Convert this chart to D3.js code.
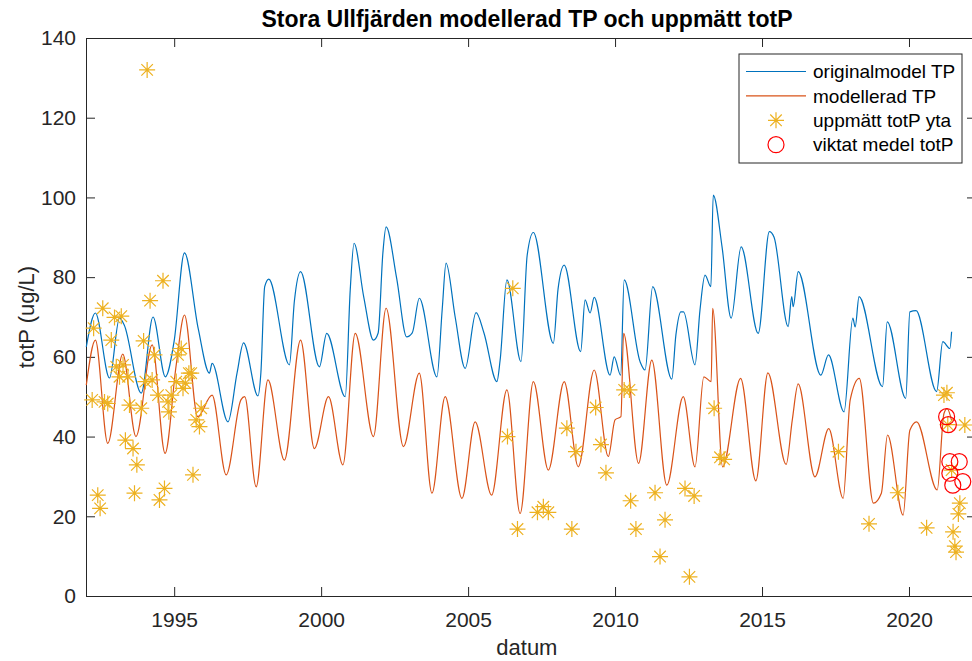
<!DOCTYPE html>
<html>
<head>
<meta charset="utf-8">
<script src="https://cdn.jsdelivr.net/npm/d3@7"></script>
<style>
  body { margin: 0; background: #fff; }
  svg { display: block; font-family: "Liberation Sans", Arial, Helvetica, sans-serif; }
  .axis path, .axis line { stroke: #262626; }
  .axis text { fill: #262626; font-size: 21px; font-family: "Liberation Sans", Arial, sans-serif; }
</style>
</head>
<body>
<div id="chart"></div>
<script>
// originalmodel TP: [decimal year, ug/L] read at peaks, troughs and shoulders
const originalModel = [
  [1992.01, 62.5], [1992.32, 71], [1992.80, 54.7], [1993.14, 69.7], [1993.30, 68], [1993.88, 50.9],
  [1994.28, 70], [1994.70, 55], [1995.00, 64], [1995.35, 86.1], [1995.82, 67], [1996.20, 55.9],
  [1996.29, 58.4], [1996.83, 43.7], [1997.14, 56], [1997.36, 63.5], [1997.85, 50.2], [1997.95, 56],
  [1998.08, 77.6], [1998.22, 79.5], [1998.92, 58], [1999.09, 74], [1999.30, 81.4], [1999.94, 57.5],
  [2000.19, 65.9], [2000.82, 50], [2000.99, 76.8], [2001.12, 88.5], [2001.45, 75], [2001.78, 64.2],
  [2001.94, 66], [2002.10, 86], [2002.21, 92.6], [2002.57, 79.7], [2002.91, 65], [2003.10, 66],
  [2003.34, 74.7], [2003.94, 55], [2004.12, 72], [2004.25, 83.5], [2004.56, 70], [2004.90, 57.1],
  [2005.27, 71.1], [2005.54, 66], [2005.98, 53.8], [2006.09, 59.2], [2006.32, 79.3], [2006.80, 58.8],
  [2007.01, 85.5], [2007.22, 91.2], [2007.90, 63.4], [2008.06, 77], [2008.27, 83], [2008.83, 61.3],
  [2008.98, 74.3], [2009.15, 71], [2009.29, 74.9], [2009.83, 55.4], [2009.97, 60], [2010.19, 55.4],
  [2010.31, 79.3], [2010.85, 58.8], [2011.02, 56.7], [2011.28, 77.6], [2011.93, 54.4], [2012.07, 65.5],
  [2012.24, 71.3], [2012.33, 71.3], [2012.72, 58], [2012.89, 71.8], [2013.06, 80.5], [2013.26, 77.6],
  [2013.34, 100.6], [2013.64, 87.6], [2013.95, 69.7], [2014.29, 87.6], [2014.87, 65.9], [2015.25, 91.4],
  [2015.41, 90], [2015.89, 67.6], [2016.01, 75.1], [2016.06, 72.6], [2016.23, 81.4], [2017.00, 55.4],
  [2017.26, 60.5], [2017.79, 46.2], [2018.09, 69.7], [2018.17, 67.5], [2018.30, 75.1], [2019.10, 52.5],
  [2019.26, 68.8], [2019.89, 49.6], [2020.03, 71.3], [2020.24, 71.6], [2020.94, 51.3], [2021.15, 63.8],
  [2021.39, 62.1], [2021.45, 66.3]
]

// modellerad TP
const modelled = [
  [1992.01, 52.9], [1992.32, 64.2], [1992.74, 38.3], [1993.25, 60.7], [1993.70, 40], [1994.25, 63],
  [1994.69, 35.8], [1995.07, 58], [1995.35, 70.5], [1995.80, 45], [1996.29, 50.4], [1996.77, 30.4],
  [1997.27, 49.2], [1997.40, 50], [1997.79, 27.4], [1998.19, 54.2], [1998.75, 34.1], [1999.30, 64.2],
  [1999.77, 37], [2000.25, 50], [2000.74, 32.9], [2001.16, 65.9], [2001.78, 40], [2002.21, 72.2],
  [2002.80, 37.5], [2003.34, 55.9], [2003.77, 25.8], [2004.22, 50], [2004.79, 24.5], [2005.24, 43.7],
  [2005.80, 25.3], [2006.32, 51.7], [2006.77, 20.7], [2007.22, 53.8], [2007.73, 31.6], [2008.27, 53.8],
  [2008.75, 32.4], [2009.29, 56.7], [2009.77, 35], [2010.00, 44.2], [2010.20, 45], [2010.29, 65.9],
  [2010.80, 33.3], [2011.25, 59.2], [2011.76, 27.8], [2012.32, 50], [2012.72, 32.4], [2013.02, 55],
  [2013.27, 53.8], [2013.32, 72.2], [2013.66, 32.4], [2014.27, 54.6], [2014.79, 28.9], [2015.20, 56],
  [2015.82, 33], [2016.03, 44.2], [2016.23, 53.2], [2016.80, 29.9], [2017.27, 42], [2017.76, 24.5],
  [2018.00, 49.2], [2018.31, 54.6], [2018.79, 23.3], [2019.06, 25.8], [2019.27, 40.4], [2019.80, 20.3],
  [2020.03, 41.6], [2020.26, 43.7], [2020.96, 26.6], [2021.19, 45.8], [2021.30, 47], [2021.45, 44]
]

// uppmätt totP yta
const measured = [
  [1992.26, 67.2], [1992.57, 72.2], [1992.86, 64.2], [1992.97, 69.9], [1993.20, 70.2], [1992.21, 49.2],
  [1992.63, 48.7], [1992.74, 48.3], [1992.40, 25.3], [1992.48, 22], [1993.03, 57.5], [1993.14, 55],
  [1993.26, 58], [1993.43, 55], [1993.48, 47.9], [1993.34, 39.1], [1993.60, 37], [1993.73, 32.9],
  [1993.65, 25.8], [1993.96, 64], [1993.88, 47.1], [1994.02, 53.8], [1994.08, 132], [1994.18, 74.1],
  [1994.62, 79.1], [1994.25, 54.2], [1994.33, 60.5], [1994.45, 50.4], [1994.50, 24.1], [1994.67, 27],
  [1994.79, 48.7], [1994.90, 50.4], [1994.82, 46.2], [1995.07, 53.8], [1995.24, 62.1], [1995.13, 60.5],
  [1995.30, 52.1], [1995.38, 53.4], [1995.50, 55.9], [1995.58, 55.9], [1995.64, 30.4], [1995.75, 44.2],
  [1995.86, 42.5], [1995.92, 47.1],
  [2006.52, 77.2], [2006.34, 40], [2006.68, 16.8], [2007.36, 21], [2007.56, 22.4], [2007.73, 21],
  [2008.36, 42.1], [2008.53, 16.8], [2008.67, 36.2], [2009.34, 47.3], [2009.52, 38], [2009.69, 30.9],
  [2010.31, 51.7], [2010.49, 51.7], [2010.53, 23.9], [2010.71, 16.8], [2011.36, 25.9], [2011.53, 9.9],
  [2011.70, 19.1], [2012.38, 27], [2012.53, 4.8], [2012.69, 25.1], [2013.37, 47.1], [2013.57, 34.8],
  [2013.71, 34.3], [2017.60, 36.2], [2018.64, 18.1], [2019.62, 25.9], [2020.60, 17.1],
  [2021.19, 50.4], [2021.29, 51], [2021.32, 43], [2021.45, 31.6], [2021.50, 16.1], [2021.56, 12.5],
  [2021.60, 11], [2021.68, 20.6], [2021.73, 23.3], [2021.90, 42.9]
]

// viktat medel totP
const weighted = [
  [2021.28, 45], [2021.34, 43], [2021.39, 33.7], [2021.71, 33.7], [2021.39, 30.8], [2021.49, 27.8], [2021.83, 28.7]
]

const xTicks = [1995, 2000, 2005, 2010, 2015, 2020]
const yTicks = [0, 20, 40, 60, 80, 100, 120, 140]
const xDomain = [1992.0, 2022.28]
const yDomain = [0, 140]

const titleText = 'Stora Ullfjärden modellerad TP och uppmätt totP'
const xLabel = 'datum'
const yLabel = 'totP (ug/L)'
const legendLabels = ['originalmodel TP', 'modellerad TP', 'uppmätt totP yta', 'viktat medel totP']

const colors = {
  blue: '#0072BD',
  orange: '#D95319',
  yellow: '#EDB120',
  red: '#FF0000'
}

const dims = { width: 972, height: 661 }
const margins = { top: 38, left: 86, right: 972 - 976, bottom: 661 - 596 }
const inner = {
  width: dims.width - margins.left - margins.right,
  height: dims.height - margins.top - margins.bottom
}

const svg = d3.select('#chart').append('svg')
  .attr('width', dims.width)
  .attr('height', dims.height)

const x = d3.scaleLinear().domain(xDomain).range([0, inner.width])
const y = d3.scaleLinear().domain(yDomain).range([inner.height, 0])

const chart = svg.append('g')
  .attr('transform', `translate(${margins.left}, ${margins.top})`)

// axes, MATLAB style: box on, ticks pointing inward
chart.append('g').classed('axis', true)
  .attr('transform', `translate(0, ${inner.height})`)
  .call(d3.axisBottom(x).tickValues(xTicks).tickFormat(d3.format('d')).tickSizeInner(-9).tickSizeOuter(0).tickPadding(16))

chart.append('g').classed('axis', true)
  .call(d3.axisTop(x).tickValues(xTicks).tickFormat('').tickSizeInner(-9).tickSizeOuter(0))

chart.append('g').classed('axis', true)
  .call(d3.axisLeft(y).tickValues(yTicks).tickSizeInner(-9).tickSizeOuter(0).tickPadding(10))

chart.append('g').classed('axis', true)
  .attr('transform', `translate(${inner.width}, 0)`)
  .call(d3.axisRight(y).tickValues(yTicks).tickFormat('').tickSizeInner(-9).tickSizeOuter(0))

const line = d3.line()
  .x(d => x(d[0]))
  .y(d => y(d[1]))
  .curve(d3.curveMonotoneX)

chart.append('path')
  .datum(originalModel)
  .attr('d', line)
  .attr('fill', 'none')
  .attr('stroke', colors.blue)
  .attr('stroke-width', 1.2)

chart.append('path')
  .datum(modelled)
  .attr('d', line)
  .attr('fill', 'none')
  .attr('stroke', colors.orange)
  .attr('stroke-width', 1.2)

// asterisk marker = plus + cross
const starPath = (r) => {
  const k = r * 0.72
  return `M0,${-r}V${r}M${-r},0H${r}M${-k},${-k}L${k},${k}M${-k},${k}L${k},${-k}`
}

chart.append('g').selectAll('path')
  .data(measured)
  .join('path')
  .attr('transform', d => `translate(${x(d[0])}, ${y(d[1])})`)
  .attr('d', starPath(8))
  .attr('fill', 'none')
  .attr('stroke', colors.yellow)
  .attr('stroke-width', 1.2)

chart.append('g').selectAll('circle')
  .data(weighted)
  .join('circle')
  .attr('cx', d => x(d[0]))
  .attr('cy', d => y(d[1]))
  .attr('r', 8)
  .attr('fill', 'none')
  .attr('stroke', colors.red)
  .attr('stroke-width', 1.2)

// title and labels
svg.append('text')
  .attr('x', 527)
  .attr('y', 27)
  .attr('text-anchor', 'middle')
  .attr('font-size', 23)
  .attr('font-weight', 'bold')
  .attr('fill', '#000')
  .text(titleText)

svg.append('text')
  .attr('x', margins.left + x((xDomain[0] + 2022.0) / 2) )
  .attr('y', 655)
  .attr('text-anchor', 'middle')
  .attr('font-size', 22)
  .attr('fill', '#262626')
  .text(xLabel)

svg.append('text')
  .attr('transform', `translate(34, ${margins.top + inner.height / 2}) rotate(-90)`)
  .attr('text-anchor', 'middle')
  .attr('font-size', 22)
  .attr('fill', '#262626')
  .text(yLabel)

// legend
const legend = svg.append('g').attr('transform', 'translate(739, 54)')
legend.append('rect')
  .attr('width', 223)
  .attr('height', 109)
  .attr('fill', '#fff')
  .attr('stroke', '#262626')
  .attr('stroke-width', 1)

const rows = legend.selectAll('g.row')
  .data(legendLabels)
  .join('g')
  .classed('row', true)
  .attr('transform', (d, i) => `translate(0, ${17.5 + i * 24.4})`)

rows.append('text')
  .attr('x', 74)
  .attr('dy', '0.35em')
  .attr('font-size', 19)
  .attr('fill', '#000')
  .text(d => d)

rows.filter((d, i) => i === 0).append('line')
  .attr('x1', 7).attr('x2', 67)
  .attr('stroke', colors.blue).attr('stroke-width', 1.2)
rows.filter((d, i) => i === 1).append('line')
  .attr('x1', 7).attr('x2', 67)
  .attr('stroke', colors.orange).attr('stroke-width', 1.2)
rows.filter((d, i) => i === 2).append('path')
  .attr('transform', 'translate(37, 0)')
  .attr('d', starPath(8))
  .attr('fill', 'none').attr('stroke', colors.yellow).attr('stroke-width', 1.2)
rows.filter((d, i) => i === 3).append('circle')
  .attr('cx', 37).attr('r', 8)
  .attr('fill', 'none').attr('stroke', colors.red).attr('stroke-width', 1.2)
</script>
</body>
</html>
